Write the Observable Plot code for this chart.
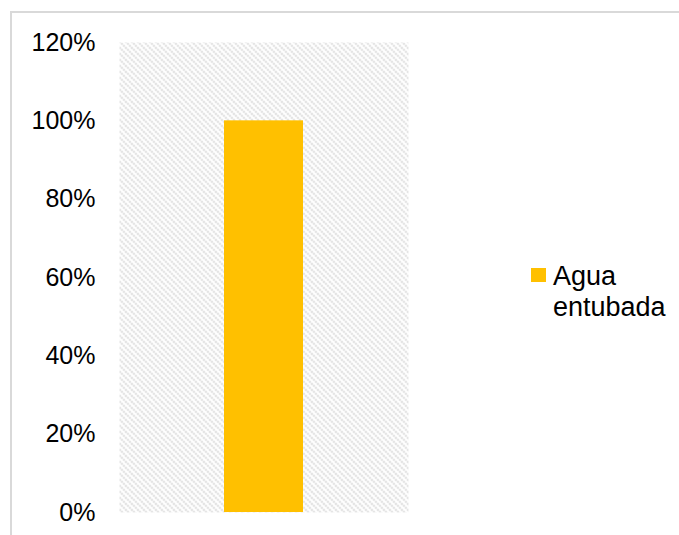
<!DOCTYPE html>
<html>
<head>
<meta charset="utf-8">
<script src="https://cdn.jsdelivr.net/npm/d3@7"></script>
<script src="https://cdn.jsdelivr.net/npm/@observablehq/plot@0.6"></script>
<style>
  html, body { margin: 0; padding: 0; background: #fff; }
  #wrap { position: relative; width: 679px; height: 535px; overflow: hidden; }
  #border { position: absolute; left: 10px; top: 11px; width: 700px; height: 600px;
            border-left: 2px solid #d9d9d9; border-top: 2px solid #d9d9d9; box-sizing: border-box; }
  #chart { position: absolute; left: 0; top: 0; }
  #legend { position: absolute; left: 531px; top: 261px; font-family: "Liberation Sans", Arial, sans-serif;
            font-size: 27px; line-height: 31px; color: #000; }
  #legend .sw { position: absolute; left: 0; top: 7px; width: 15px; height: 14px; background: #ffc000; }
  #legend .lb { position: absolute; left: 22px; top: 0; white-space: nowrap; }
</style>
</head>
<body>
<div id="wrap">
  <div id="border"></div>
  <div id="chart"></div>
  <div id="legend"><div class="sw"></div><div class="lb">Agua<br>entubada</div></div>
</div>
<script>
const categories = ["Agua entubada"];
const values = [1.0];
const yTicks = [0, 0.2, 0.4, 0.6, 0.8, 1.0, 1.2];

const data = categories.map((c, i) => ({category: c, value: values[i]}));

const plot = Plot.plot({
  width: 679,
  height: 535,
  marginLeft: 119,
  marginRight: 271,
  marginTop: 42,
  marginBottom: 23,
  style: {background: "transparent", fontFamily: "'Liberation Sans', Arial, sans-serif", fontSize: "25px", color: "#000"},
  x: {domain: categories, padding: 0.5706, axis: null},
  y: {domain: [0, 1.2], ticks: yTicks, tickFormat: d => Math.round(d * 100) + "%", label: null, tickSize: 0, tickPadding: 24},
  marks: [
    Plot.frame({fill: "url(#hatch)", stroke: "none"}),
    Plot.barY(data, {x: "category", y: "value", fill: "#ffc000"})
  ]
});

const svg = d3.select(plot);
const defs = svg.insert("defs", ":first-child");
const pat = defs.append("pattern")
  .attr("id", "hatch")
  .attr("patternUnits", "userSpaceOnUse")
  .attr("width", 6).attr("height", 6);
pat.append("path")
  .attr("d", "M-1,-1 L7,7 M-1,5 L1,7 M5,-1 L7,1")
  .attr("stroke", "#c8c8c8")
  .attr("stroke-width", 1.8)
  .attr("stroke-dasharray", "1.4,1.4");

document.getElementById("chart").appendChild(plot);
</script>
</body>
</html>
